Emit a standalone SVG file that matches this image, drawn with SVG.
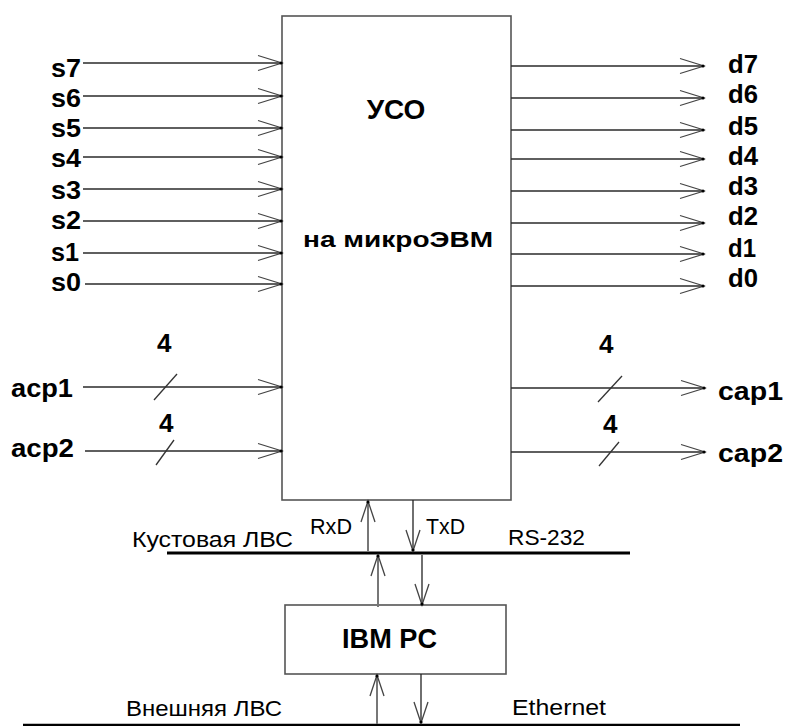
<svg xmlns="http://www.w3.org/2000/svg" width="785" height="726" viewBox="0 0 785 726">
<style>
.box{fill:#fff;stroke:#555;stroke-width:1.6}
.ln{stroke:#2a2a2a;stroke-width:1.6;fill:none}
.up{stroke:#777;stroke-width:2;fill:none}
.dn{stroke:#222;stroke-width:1.3;fill:none}
.bus{stroke:#000;stroke-width:3;fill:none}
.sl{stroke:#333;stroke-width:1.3;fill:none}
.b{font-family:"Liberation Sans",Arial,sans-serif;font-weight:bold;fill:#000}
.n{font-family:"Liberation Sans",Arial,sans-serif;font-size:22px;fill:#000}
.lab{font-size:26px}
</style>
<defs>
<marker id="ah" viewBox="-26 -9 28 18" refX="0" refY="0" markerWidth="28" markerHeight="18" markerUnits="userSpaceOnUse" orient="auto">
<path d="M-24,-7.5 L0,0 L-24,7.5" fill="none" stroke="#444" stroke-width="1.2"/>
<circle cx="-1" cy="0" r="1.6" fill="#000"/>
</marker>
<marker id="av" viewBox="-24 -9 26 18" refX="0" refY="0" markerWidth="26" markerHeight="18" markerUnits="userSpaceOnUse" orient="auto">
<path d="M-21,-7 L0,0 L-21,7" fill="none" stroke="#444" stroke-width="1.3"/>
<circle cx="-1" cy="0" r="1.6" fill="#000"/>
</marker>
</defs>

<g id="uso">
<rect class="box" x="282" y="16" width="229" height="484"/>
<text class="b" x="396" y="119" font-size="28" text-anchor="middle">УСО</text>
<text class="b" x="303" y="247" font-size="22" textLength="190" lengthAdjust="spacingAndGlyphs">на микроЭВМ</text>
</g>

<g id="ibmpc">
<rect class="box" x="285" y="605" width="221" height="69"/>
<text class="b" x="342" y="648" font-size="27" textLength="95" lengthAdjust="spacingAndGlyphs">IBM PC</text>
</g>

<g id="bus-cluster">
<line class="bus" x1="167" y1="553" x2="630" y2="553"/>
<text class="n" x="132" y="547" textLength="161" lengthAdjust="spacingAndGlyphs">Кустовая ЛВС</text>
<text class="n" x="508" y="545" textLength="77" lengthAdjust="spacingAndGlyphs">RS-232</text>
</g>

<g id="bus-external">
<line x1="23" y1="725" x2="740" y2="725" stroke="#000" stroke-width="2.4"/>
<text class="n" x="126" y="716" textLength="156" lengthAdjust="spacingAndGlyphs">Внешняя ЛВС</text>
<text class="n" x="512" y="715" textLength="94" lengthAdjust="spacingAndGlyphs">Ethernet</text>
</g>

<g id="inputs" class="b lab">
<text x="51" y="77" textLength="30" lengthAdjust="spacingAndGlyphs">s7</text>
<text x="51" y="107" textLength="30" lengthAdjust="spacingAndGlyphs">s6</text>
<text x="51" y="137" textLength="30" lengthAdjust="spacingAndGlyphs">s5</text>
<text x="51" y="167" textLength="30" lengthAdjust="spacingAndGlyphs">s4</text>
<text x="51" y="199" textLength="30" lengthAdjust="spacingAndGlyphs">s3</text>
<text x="51" y="229" textLength="30" lengthAdjust="spacingAndGlyphs">s2</text>
<text x="51" y="261" textLength="28" lengthAdjust="spacingAndGlyphs">s1</text>
<text x="51" y="291" textLength="30" lengthAdjust="spacingAndGlyphs">s0</text>
<text x="11" y="397" textLength="62" lengthAdjust="spacingAndGlyphs">acp1</text>
<text x="11" y="457" textLength="63" lengthAdjust="spacingAndGlyphs">acp2</text>
<text x="157" y="352">4</text>
<text x="159" y="432">4</text>
</g>

<g id="outputs" class="b lab">
<text x="728" y="73" textLength="30" lengthAdjust="spacingAndGlyphs">d7</text>
<text x="728" y="103" textLength="30" lengthAdjust="spacingAndGlyphs">d6</text>
<text x="728" y="135" textLength="30" lengthAdjust="spacingAndGlyphs">d5</text>
<text x="728" y="165" textLength="30" lengthAdjust="spacingAndGlyphs">d4</text>
<text x="728" y="195" textLength="30" lengthAdjust="spacingAndGlyphs">d3</text>
<text x="728" y="225" textLength="30" lengthAdjust="spacingAndGlyphs">d2</text>
<text x="728" y="257" textLength="28" lengthAdjust="spacingAndGlyphs">d1</text>
<text x="728" y="287" textLength="30" lengthAdjust="spacingAndGlyphs">d0</text>
<text x="718" y="400" textLength="65" lengthAdjust="spacingAndGlyphs">cap1</text>
<text x="718" y="462" textLength="65" lengthAdjust="spacingAndGlyphs">cap2</text>
<text x="599" y="353">4</text>
<text x="603" y="433">4</text>
</g>

<g id="serial-labels">
<text class="n" x="310" y="534" textLength="42" lengthAdjust="spacingAndGlyphs">RxD</text>
<text class="n" x="426" y="534" textLength="39" lengthAdjust="spacingAndGlyphs">TxD</text>
</g>

<g id="connectors">
<g class="ln" marker-end="url(#ah)">
<line x1="83" y1="63" x2="282" y2="63"/>
<line x1="83" y1="96" x2="282" y2="96"/>
<line x1="83" y1="128" x2="282" y2="128"/>
<line x1="83" y1="157" x2="282" y2="157"/>
<line x1="83" y1="189" x2="282" y2="189"/>
<line x1="83" y1="221" x2="282" y2="221"/>
<line x1="83" y1="253" x2="282" y2="253"/>
<line x1="85" y1="284" x2="282" y2="284"/>
<line x1="83" y1="387" x2="282" y2="387"/>
<line x1="85" y1="451" x2="282" y2="451"/>
<line x1="511" y1="66" x2="704" y2="66"/>
<line x1="511" y1="98" x2="704" y2="98"/>
<line x1="511" y1="130" x2="704" y2="130"/>
<line x1="511" y1="159" x2="704" y2="159"/>
<line x1="511" y1="191" x2="704" y2="191"/>
<line x1="511" y1="223" x2="704" y2="223"/>
<line x1="511" y1="254" x2="704" y2="254"/>
<line x1="511" y1="286" x2="704" y2="286"/>
<line x1="511" y1="388" x2="705" y2="388"/>
<line x1="511" y1="452" x2="705" y2="452"/>
</g>
<g class="sl">
<line x1="154" y1="400" x2="177" y2="374"/>
<line x1="156" y1="465" x2="174" y2="440"/>
<line x1="598" y1="402" x2="622" y2="376"/>
<line x1="599" y1="466" x2="619" y2="442"/>
</g>
<g class="up" marker-end="url(#av)">
<line x1="368" y1="551" x2="368" y2="501"/>
<line x1="378" y1="607" x2="378" y2="555"/>
<line x1="377" y1="724" x2="377" y2="675"/>
</g>
<g class="dn" marker-end="url(#av)">
<line x1="413" y1="500" x2="413" y2="551"/>
<line x1="422" y1="555" x2="422" y2="605"/>
<line x1="421" y1="674" x2="421" y2="723"/>
</g>
</g>
</svg>
